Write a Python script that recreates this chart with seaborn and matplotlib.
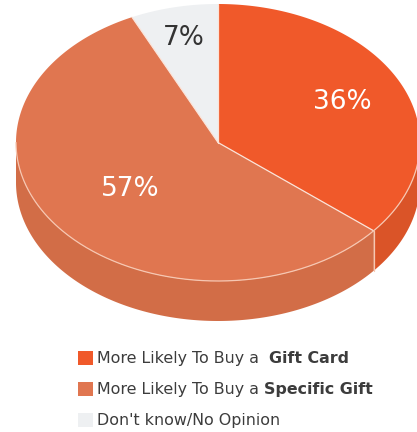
import numpy as np
import matplotlib
matplotlib.use("Agg")
import matplotlib.pyplot as plt
from matplotlib.patches import Polygon, Rectangle
import seaborn as sns

# Survey answers
categories = ["Gift Card", "Specific Gift", "Don't know/No Opinion"]
shares = [36, 57, 7]
slice_labels = ["36%", "57%", "7%"]
legend_prefix = ["More Likely To Buy a  ", "More Likely To Buy a ", "Don't know/No Opinion"]
legend_bold = ["Gift Card", "Specific Gift", ""]

# Styling
top_colors = ["#F0592A", "#E07650", "#EEF0F2"]
side_colors = ["#DA5428", "#D26D47", "#D8D9DB"]
label_colors = ["white", "white", "#333333"]
label_radius = [0.68, 0.55, 0.77]
text_color = "#3c3c3c"

sns.set_theme(style="white")
plt.rcParams["font.family"] = ["DejaVu Sans"]

fig = plt.figure(figsize=(4.17, 4.32), dpi=100)
ax = fig.add_axes([0, 0, 1, 1])
ax.set_xlim(0, 417)
ax.set_ylim(432, 0)
ax.axis("off")

# Tilted-disc geometry (pixel units)
cx, cy, rx, ry, depth = 218, 142.5, 202, 138.5, 40


def rim(t_deg):
    r = np.radians(t_deg)
    return cx + rx * np.cos(r), cy - ry * np.sin(r)


fractions = np.array(shares, dtype=float) / sum(shares)
starts = 90 - 360 * np.concatenate([[0], np.cumsum(fractions)[:-1]])
ends = starts - 360 * fractions

# Side walls (only the front half of the disc is visible)
for s, e, col in zip(starts, ends, side_colors):
    for shift in (-360, 0, 360):
        lo, hi = max(e + shift, -180), min(s + shift, 0)
        if lo < hi:
            t = np.linspace(lo, hi, 200)
            xs, ys = rim(t)
            pts = np.column_stack([np.r_[xs, xs[::-1]], np.r_[ys, ys[::-1] + depth]])
            ax.add_patch(Polygon(pts, closed=True, facecolor=col, edgecolor="none", zorder=1))

# Vertical seams where slices meet on the visible wall
for s in starts:
    for shift in (-360, 0, 360):
        a = s + shift
        if -180 < a < 0:
            x0, y0 = rim(a)
            ax.plot([x0, x0], [y0, y0 + depth], color="#F6C7B2", lw=0.9, zorder=2)

# Top faces
for s, e, col in zip(starts, ends, top_colors):
    t = np.linspace(s, e, 300)
    xs, ys = rim(t)
    pts = np.column_stack([np.r_[cx, xs], np.r_[cy, ys]])
    ax.add_patch(Polygon(pts, closed=True, facecolor=col, edgecolor="none", zorder=3))

# Radial separators
for s in starts:
    x0, y0 = rim(s)
    ax.plot([cx, x0], [cy, y0], color="#FBE3D8", lw=0.9, zorder=4)

# Light rim along the front edge of the top face
t = np.linspace(-180, 0, 300)
xs, ys = rim(t)
ax.plot(xs, ys, color="#F6C7B2", lw=0.9, zorder=4)

# Percentage labels
for s, e, txt, col, f in zip(starts, ends, slice_labels, label_colors, label_radius):
    m = np.radians((s + e) / 2)
    lx = cx + f * rx * np.cos(m)
    ly = cy - f * ry * np.sin(m)
    ax.text(lx, ly, txt, color=col, fontsize=19, ha="center", va="center", zorder=5)

# Legend
legend_y = [363, 394, 425]
for i, (pre, bold, col) in enumerate(zip(legend_prefix, legend_bold, top_colors)):
    y = legend_y[i]
    ax.add_patch(Rectangle((78, y - 12), 15, 14, facecolor=col, edgecolor="none", zorder=5))
    t1 = ax.text(97, y, pre, fontsize=11.4, color=text_color, ha="left", va="baseline", zorder=5)
    if bold:
        fig.canvas.draw()
        bb = t1.get_window_extent(fig.canvas.get_renderer())
        x_end = ax.transData.inverted().transform((bb.x1, bb.y0))[0]
        ax.text(x_end, y, bold, fontsize=11.4, fontweight="bold", color=text_color,
                ha="left", va="baseline", zorder=5)

fig.savefig("out.png", dpi=100, facecolor="white")
